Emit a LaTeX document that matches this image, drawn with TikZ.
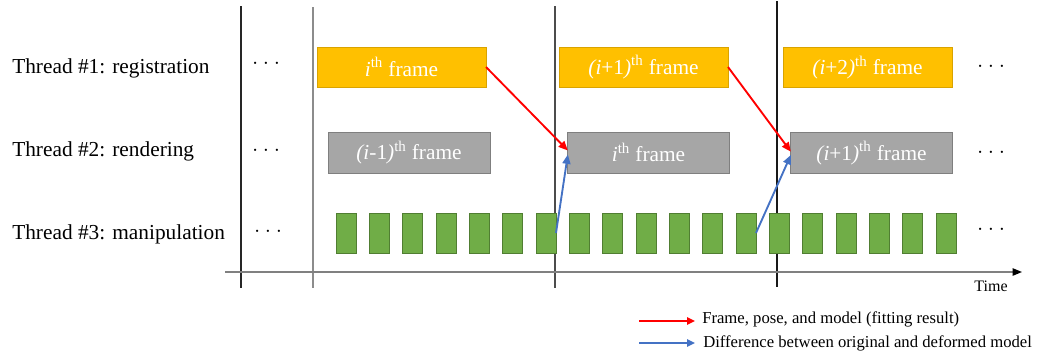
\documentclass[tikz,border=0pt]{standalone}
\usepackage{fontspec}
\setmainfont{Liberation Serif}
\newfontfamily\serf{Liberation Serif}
\usetikzlibrary{arrows.meta}
\definecolor{yel}{HTML}{FFC000}
\definecolor{yelb}{HTML}{D9A300}
\definecolor{gry}{HTML}{A6A6A6}
\definecolor{gryb}{HTML}{7F7F7F}
\definecolor{grn}{HTML}{70AD47}
\definecolor{grnb}{HTML}{507E32}
\definecolor{blu}{HTML}{4472C4}
\definecolor{axisgray}{HTML}{808080}
\begin{document}
\begin{tikzpicture}[x=0.75pt,y=-0.75pt,
  framebox/.style={font={\serf\fontsize{16}{19}\selectfont}, text=white, inner sep=0pt, outer sep=0pt, line width=0.75pt},
  regbox/.style={framebox, fill=yel, draw=yelb, minimum width=126.75pt, minimum height=30pt},
  renbox/.style={framebox, fill=gry, draw=gryb, minimum width=121pt, minimum height=30.75pt},
  manbox/.style={fill=grn, draw=grnb, line width=0.6pt, inner sep=0pt, outer sep=0pt, minimum width=15pt, minimum height=30pt},
  lbl/.style={font={\serf\fontsize{16}{19}\selectfont}, anchor=west, inner sep=0pt},
  dts/.style={font={\serf\fontsize{14}{16}\selectfont}, inner sep=0pt},
  redarr/.style={red, line width=1.4pt, -{Triangle[length=7pt,width=6pt]}},
  bluarr/.style={blu, line width=1.4pt, -{Triangle[length=7pt,width=6pt]}},
  vline/.style={line width=0.8pt},
  legtext/.style={font={\serf\fontsize{12.5}{15}\selectfont}, anchor=west, inner sep=0pt},
]
\useasboundingbox (0,0) rectangle (1039,355);

% vertical time markers
\coordinate (v1t) at (241,6);   \coordinate (v1b) at (241,288);
\coordinate (v2t) at (313,7);   \coordinate (v2b) at (313,288);
\coordinate (v3t) at (555,6);   \coordinate (v3b) at (555,288);
\coordinate (v4t) at (777,1);   \coordinate (v4b) at (777,287);
\draw[vline, black!85] (v1t) -- (v1b);
\draw[vline, black!45] (v2t) -- (v2b);
\draw[vline, black!70] (v3t) -- (v3b);
\draw[vline, black!90] (v4t) -- (v4b);

% time axis
\coordinate (ax0) at (225,272);
\coordinate (ax1) at (1022,272);
\draw[axisgray, line width=1pt, -{Triangle[length=7pt,width=5.5pt,color=black]}] (ax0) -- (ax1);
\node[font={\serf\fontsize{12}{14}\selectfont}, inner sep=0pt] (time) at (991,286) {Time};

% thread labels
\node[lbl] (t1) at (12,68) {Thread \#1: registration};
\node[lbl] (t2) at (12,151) {Thread \#2: rendering};
\node[lbl] (t3) at (12,234) {Thread \#3: manipulation};

% dots
\node[dts] (d1l) at (266,66) {· · ·};
\node[dts] (d2l) at (266,153) {· · ·};
\node[dts] (d3l) at (268,234) {· · ·};
\node[dts] (d1r) at (991,69) {· · ·};
\node[dts] (d2r) at (991,155) {· · ·};
\node[dts] (d3r) at (991,232) {· · ·};

% registration
\node[regbox] (r1) at (401.5,67) {\textit{i}\textsuperscript{th} frame};
\node[regbox] (r2) at (643.5,67) {\textit{(i}+1\textit{)}\textsuperscript{th} frame};
\node[regbox] (r3) at (867.5,67.5) {\textit{(i}+2\textit{)}\textsuperscript{th} frame};

% rendering
\node[renbox, minimum width=121.5pt] (n0) at (409,152.5) {\textit{(i}-1\textit{)}\textsuperscript{th} frame};
\node[renbox] (n1) at (648.5,152.5) {\textit{i}\textsuperscript{th} frame};
\node[renbox] (n2) at (871.5,153) {\textit{(i}+1\textit{)}\textsuperscript{th} frame};

% manipulation
\foreach \k in {0,...,18} {
  \node[manbox] (g\k) at ({346+33.333*\k},233) {};
}

% connectors
\draw[redarr] (r1.east) -- ([yshift=1.5pt]n1.west);
\draw[redarr] (r2.east) -- ([yshift=1pt]n2.west);
\draw[bluarr] (g6.east) -- ([yshift=-1.5pt]n1.west);
\draw[bluarr] (g12.east) -- ([yshift=-1.5pt]n2.west);

% legend
\coordinate (lr0) at (639,321); \coordinate (lr1) at (695,321);
\coordinate (lb0) at (639,343); \coordinate (lb1) at (695,343);
\draw[red, line width=1.4pt, -{Triangle[length=6pt,width=5.5pt]}] (lr0) -- (lr1);
\draw[blu, line width=1.4pt, -{Triangle[length=6pt,width=5.5pt]}] (lb0) -- (lb1);
\node[legtext] (lt1) at (702,319) {Frame, pose, and model (fitting result)};
\node[legtext] (lt2) at (703,343) {Difference between original and deformed model};
\end{tikzpicture}
\end{document}
